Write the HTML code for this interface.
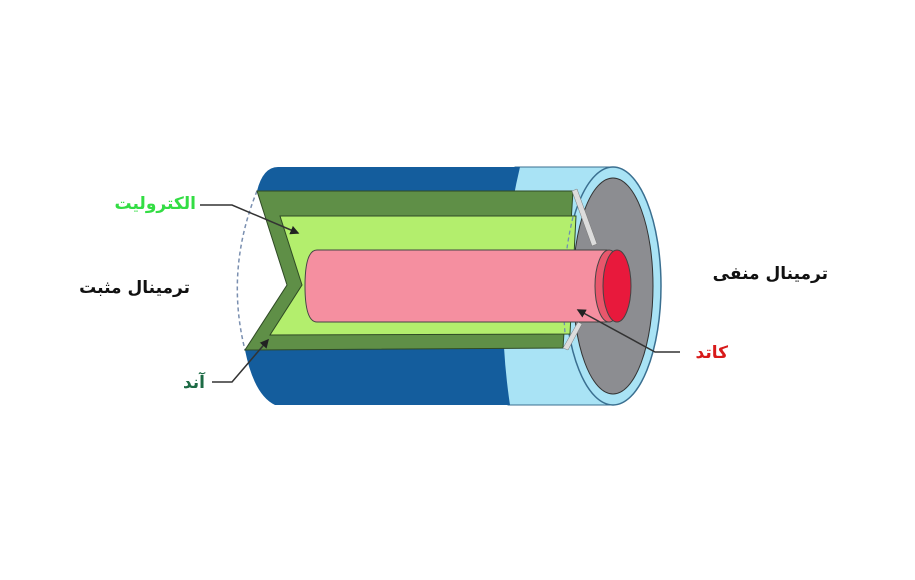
<!DOCTYPE html>
<html><head><meta charset="utf-8"><style>
html,body{margin:0;padding:0;background:#fff;width:915px;height:580px;overflow:hidden}
svg{display:block}
text{font-family:"DejaVu Sans","Liberation Sans",sans-serif;font-weight:bold;font-size:17px}
</style></head><body>
<svg width="915" height="580" viewBox="0 0 915 580" xmlns="http://www.w3.org/2000/svg">
<defs><marker id="a" markerWidth="6" markerHeight="6" refX="5" refY="3" orient="auto"><path d="M0,0 L6,3 L0,6 Z" fill="#222"/></marker></defs>
<path d="M515 167 L613 167 L613 405 L508 405 Q490 285 515 167 Z" fill="#a9e3f5" stroke="#3a6f90" stroke-width="1"/>
<path d="M278 167 L520 167 Q492 285 510 405 L275 405 Q254 395 245 350 L287 285 L257 191 Q263 167 278 167 Z" fill="#145d9d"/>
<ellipse cx="613" cy="286" rx="48" ry="119" fill="#a9e3f5" stroke="#3a6f90" stroke-width="1.5"/>
<ellipse cx="613" cy="286" rx="40" ry="108" fill="#8c8d91" stroke="#333" stroke-width="1"/>
<path d="M257 191 Q225 270 245 350" fill="none" stroke="#7a8fb0" stroke-width="1.5" stroke-dasharray="4,3"/>
<polygon points="257,191 573,191 563,348 245,350 287,285" fill="#5f8f47" stroke="#2f4a25" stroke-width="1"/>
<polygon points="280,216 576,216 570,334 270,335 302,285" fill="#b3ee6d" stroke="#2f4a25" stroke-width="1"/>
<path d="M573 217 Q560 270 565 333" fill="none" stroke="#6f8fb0" stroke-width="1.3" stroke-dasharray="4,3"/>
<polygon points="572,191 577,189 597,244 592,246" fill="#dcdcdc" stroke="#777" stroke-width="0.5"/>
<polygon points="563,348 578,322 582,324 568,350" fill="#dcdcdc" stroke="#777" stroke-width="0.5"/>
<path d="M317 250 L607 250 L607 322 L317 322 Q305 322 305 286 Q305 250 317 250 Z" fill="#f58fa0" stroke="#444" stroke-width="1"/>
<ellipse cx="609" cy="286" rx="14" ry="36" fill="#e8576c" stroke="#444" stroke-width="1"/>
<ellipse cx="617" cy="286" rx="14" ry="36" fill="#e8193c" stroke="#444" stroke-width="1"/>
<polyline points="200,205 232,205 298,233" fill="none" stroke="#333" stroke-width="1.5" marker-end="url(#a)"/>
<polyline points="212,382 232,382 268,340" fill="none" stroke="#333" stroke-width="1.5" marker-end="url(#a)"/>
<polyline points="680,352 655,352 578,310" fill="none" stroke="#333" stroke-width="1.5" marker-end="url(#a)"/>
<text x="196" y="209" text-anchor="start" fill="#33dd44" direction="rtl">الکترولیت</text>
<text x="190" y="293" text-anchor="start" fill="#111" direction="rtl">ترمینال مثبت</text>
<text x="205" y="388" text-anchor="start" fill="#1d6b45" direction="rtl">آند</text>
<text x="828" y="279" text-anchor="start" fill="#111" direction="rtl">ترمینال منفی</text>
<text x="728" y="358" text-anchor="start" fill="#d81a1a" direction="rtl">کاتد</text>
</svg>
</body></html>
